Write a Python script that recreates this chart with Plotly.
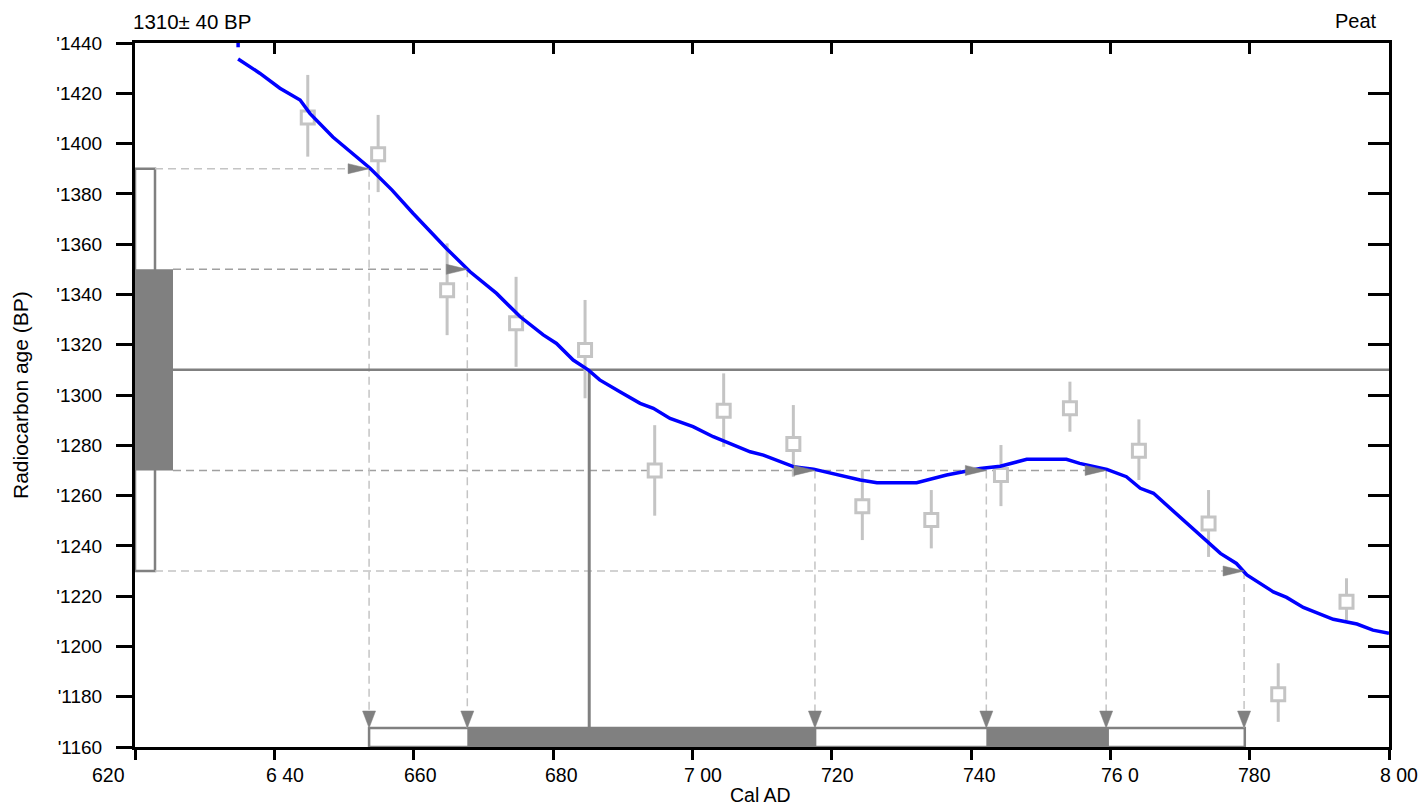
import plotly.graph_objects as go

# ---------------- data ----------------
sample_label = "1310± 40 BP"
sample_name = "Peat"
measured_bp = 1310
sigma1_bp = [1270, 1350]
sigma2_bp = [1230, 1390]
# calibrated ranges (Cal AD)
sigma2_cal = [653.6, 779.3]
sigma1_cal = [[667.7, 717.8], [742.2, 759.8]]
# intersections of the sigma levels with the curve (year, BP)
cross_year = [653.6, 667.7, 717.6, 742.2, 759.4, 779.2]
cross_bp = [1390, 1350, 1270, 1270, 1270, 1230]
median_year = 685.2

cal_year = [634.8, 637.9, 640.8, 643.7, 645.1, 648.4, 653.7, 656.9, 659.9, 662.8, 664.7, 668.1,
            671.9, 675.3, 678.6, 680.5, 682.9, 685.1, 686.7, 689.6, 692.5, 694.4, 696.8, 700.1,
            703.0, 708.3, 710.2, 714.5, 717.4, 724.1, 726.5, 732.2, 736.5, 741.3, 744.2, 748.0,
            753.7, 755.6, 759.5, 762.3, 764.3, 766.2, 770.0, 773.8, 775.8, 778.1, 779.6, 783.4,
            785.3, 787.7, 792.0, 795.4, 797.7, 800.0]
curve_bp = [1433.6, 1428.0, 1422.0, 1417.3, 1412.0, 1402.6, 1390.3, 1381.5, 1372.3, 1363.6, 1358.3, 1349.0,
            1340.4, 1331.1, 1323.9, 1320.5, 1313.9, 1309.9, 1306.0, 1301.3, 1296.7, 1294.7, 1290.7, 1287.4,
            1283.4, 1277.4, 1276.1, 1271.5, 1270.5, 1266.2, 1265.1, 1265.1, 1268.2, 1270.8, 1271.7, 1274.4,
            1274.4, 1272.8, 1270.4, 1267.5, 1262.9, 1260.9, 1251.6, 1242.3, 1237.0, 1233.0, 1228.4, 1221.7,
            1219.5, 1215.5, 1210.8, 1208.9, 1206.5, 1205.2]
stub_year = [634.8, 634.8]
stub_bp = [1440, 1438.3]

meas_year = [644.8, 654.9, 664.8, 674.7, 684.6, 694.6, 704.5, 714.5, 724.4, 734.3, 744.3, 754.2,
             764.1, 774.1, 784.1, 793.9]
meas_bp = [1410.4, 1395.8, 1341.7, 1328.5, 1317.9, 1270.0, 1293.7, 1280.5, 1255.8, 1250.3, 1268.2, 1294.7,
           1277.8, 1248.9, 1181.0, 1217.8]
meas_hi = [1427.3, 1411.4, 1360.3, 1347.0, 1337.8, 1288.0, 1308.6, 1296.0, 1270.2, 1262.2, 1280.1, 1305.3,
           1290.3, 1262.2, 1193.3, 1227.1]
meas_lo = [1394.8, 1380.7, 1323.8, 1311.2, 1298.7, 1252.0, 1279.4, 1267.5, 1242.3, 1239.0, 1255.8, 1285.4,
           1266.2, 1235.6, 1170.0, 1210.5]

x_ticks = [620, 640, 660, 680, 700, 720, 740, 760, 780, 800]
x_ticktext = ["620", "6 40", "660", "680", "7 00", "720", "740", "76 0", "780", "8 00"]
y_ticks = list(range(1160, 1441, 20))
y_ticktext = ["'" + str(v) for v in y_ticks]

# ---------------- geometry / style ----------------
X0, X1 = 620, 800
Y0, Y1 = 1160, 1440
ML, MR, MT, MB = 135, 30, 43, 60
W, H = 1419, 807
pxx = (W - ML - MR) / (X1 - X0)
pxy = (H - MT - MB) / (Y1 - Y0)
FONT = "Liberation Sans, Arial, sans-serif"
GRAY = "#808080"
LIGHT = "#c4c4c4"
MID = "#a0a0a0"

box_outer_w = 20 / pxx
box_inner_w = 38 / pxx
bar_h = 19 / pxy
bar_top = Y0 + bar_h

fig = go.Figure()


def hline(y, x0, x1, color):
    fig.add_trace(go.Scatter(x=[x0, x1], y=[y, y], mode="lines", hoverinfo="skip",
                             line=dict(color=color, width=1.5, dash="8px,5px"), showlegend=False))


# dashed horizontal lines from the sigma box to the curve
hline(sigma2_bp[1], X0 + box_outer_w, cross_year[0], LIGHT)
hline(sigma2_bp[0], X0 + box_outer_w, cross_year[5], LIGHT)
hline(sigma1_bp[1], X0 + box_inner_w, cross_year[1], MID)
hline(sigma1_bp[0], X0 + box_inner_w, cross_year[4], MID)

# dashed vertical lines down to the calibrated bar
vx, vy = [], []
for yr, bp in zip(cross_year, cross_bp):
    vx += [yr, yr, None]
    vy += [bp, bar_top, None]
fig.add_trace(go.Scatter(x=vx, y=vy, mode="lines", hoverinfo="skip", showlegend=False,
                         line=dict(color=LIGHT, width=1.5, dash="8px,5px")))

# solid measured-age line and median line
fig.add_trace(go.Scatter(x=[X0 + box_inner_w, X1], y=[measured_bp, measured_bp], mode="lines",
                         hoverinfo="skip", showlegend=False, line=dict(color=GRAY, width=2.5)))
fig.add_trace(go.Scatter(x=[median_year, median_year], y=[measured_bp, bar_top], mode="lines",
                         hoverinfo="skip", showlegend=False, line=dict(color=GRAY, width=3)))

# measurements with error bars
fig.add_trace(go.Scatter(
    x=meas_year, y=meas_bp, mode="markers", showlegend=False,
    marker=dict(symbol="square", size=13, color="white", line=dict(color=LIGHT, width=3)),
    error_y=dict(type="data", symmetric=False,
                 array=[h - b for h, b in zip(meas_hi, meas_bp)],
                 arrayminus=[b - l for b, l in zip(meas_bp, meas_lo)],
                 thickness=3, width=0, color=LIGHT)))

# calibration curve
fig.add_trace(go.Scatter(x=cal_year, y=curve_bp, mode="lines", showlegend=False,
                         line=dict(color="#0000ff", width=3.5)))
fig.add_trace(go.Scatter(x=stub_year, y=stub_bp, mode="lines", showlegend=False,
                         line=dict(color="#0000ff", width=3.5)))

# arrow heads
ax, ay = [], []
for yr, bp in zip(cross_year, cross_bp):
    ax += [yr - 21 / pxx, yr, yr - 21 / pxx, yr - 21 / pxx, None]
    ay += [bp + 5 / pxy, bp, bp - 5 / pxy, bp + 5 / pxy, None]
    ax += [yr - 6.5 / pxx, yr, yr + 6.5 / pxx, yr - 6.5 / pxx, None]
    ay += [bar_top + 17 / pxy, bar_top, bar_top + 17 / pxy, bar_top + 17 / pxy, None]
fig.add_trace(go.Scatter(x=ax, y=ay, mode="lines", fill="toself", fillcolor=GRAY,
                         line=dict(color=GRAY, width=0.5), hoverinfo="skip", showlegend=False))

# invisible trace for mirrored axes
fig.add_trace(go.Scatter(x=[X0], y=[Y0], xaxis="x2", yaxis="y2", mode="markers",
                         marker=dict(opacity=0), hoverinfo="skip", showlegend=False))

# shapes: sigma boxes
shapes = [
    dict(type="rect", xref="x", yref="y", x0=X0, x1=X0 + box_outer_w, y0=sigma2_bp[0], y1=sigma2_bp[1],
         line=dict(color=GRAY, width=2.5), fillcolor="white", layer="below"),
    dict(type="rect", xref="x", yref="y", x0=X0, x1=X0 + box_inner_w, y0=sigma1_bp[0], y1=sigma1_bp[1],
         line=dict(color=GRAY, width=0), fillcolor=GRAY, layer="below"),
    dict(type="rect", xref="x", yref="y", x0=sigma2_cal[0], x1=sigma2_cal[1], y0=Y0, y1=bar_top,
         line=dict(color=GRAY, width=2.5), fillcolor="white", layer="below"),
]
for a, b in sigma1_cal:
    shapes.append(dict(type="rect", xref="x", yref="y", x0=a, x1=b, y0=Y0, y1=bar_top,
                       line=dict(color=GRAY, width=0), fillcolor=GRAY, layer="below"))

annotations = []
x_shift = [-27, 11, 7, 8, 11, 6, 8, 10, 5, 10]
for v, t, s in zip(x_ticks, x_ticktext, x_shift):
    annotations.append(dict(xref="x", yref="paper", x=v, y=0, text=t, showarrow=False,
                            xanchor="center", yanchor="middle", xshift=s, yshift=-28,
                            font=dict(family=FONT, size=19.5, color="black")))
annotations += [
    dict(xref="paper", yref="paper", x=0.5, y=0, text="Cal AD", showarrow=False, xanchor="center",
         yanchor="middle", xshift=-2, yshift=-48, font=dict(family=FONT, size=19.5, color="black")),
    dict(xref="paper", yref="paper", x=0, y=0.5, text="Radiocarbon age (BP)", showarrow=False,
         textangle=-90, xanchor="center", yanchor="middle", xshift=-115,
         font=dict(family=FONT, size=21, color="black")),
    dict(xref="paper", yref="paper", x=0, y=1, text=sample_label, showarrow=False, xanchor="left",
         yanchor="middle", xshift=-4, yshift=22, font=dict(family=FONT, size=20.5, color="black")),
    dict(xref="paper", yref="paper", x=1, y=1, text=sample_name, showarrow=False, xanchor="right",
         yanchor="middle", xshift=-10, yshift=22, font=dict(family=FONT, size=20, color="black")),
]

axis_common = dict(showgrid=False, zeroline=False, showline=True, linecolor="black", linewidth=3,
                   tickcolor="black", tickwidth=3)
fig.update_layout(
    width=W, height=H, margin=dict(l=ML, r=MR, t=MT, b=MB),
    paper_bgcolor="white", plot_bgcolor="white",
    font=dict(family=FONT, size=19, color="black"),
    xaxis=dict(range=[X0, X1], tickvals=x_ticks, ticks="outside", ticklen=10, showticklabels=False,
               **axis_common),
    yaxis=dict(range=[Y0, Y1], tickvals=y_ticks, ticktext=y_ticktext, ticks="outside", ticklen=16,
               ticklabelstandoff=10, tickfont=dict(family=FONT, size=19, color="black"), **axis_common),
    xaxis2=dict(range=[X0, X1], overlaying="x", side="top", anchor="y2", tickvals=x_ticks, ticks="inside",
                ticklen=11, showticklabels=False, **axis_common),
    yaxis2=dict(range=[Y0, Y1], overlaying="y", side="right", anchor="x2", tickvals=y_ticks, ticks="inside",
                ticklen=21, showticklabels=False, **axis_common),
    shapes=shapes, annotations=annotations, showlegend=False,
)

fig.write_html("out.html", config={"displayModeBar": False},
               post_script="document.body.style.margin='0';document.body.style.padding='0';"
                           "document.documentElement.style.overflow='hidden';")
